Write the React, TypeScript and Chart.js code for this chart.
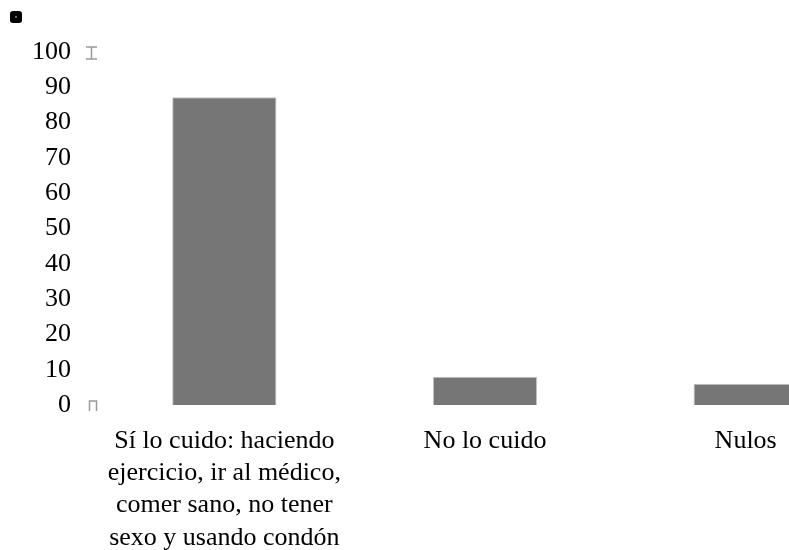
import React, { useEffect, useRef } from "react";
import { Chart, registerables } from "chart.js";

Chart.register(...registerables);

const categories: (string | string[])[] = [
  ["Sí lo cuido: haciendo", "ejercicio, ir al médico,", "comer sano, no tener", "sexo y usando condón"],
  "No lo cuido",
  "Nulos",
];
const values: number[] = [87.2, 8.0, 6.0];
const yMin = 0;
const yMax = 100;
const yStep = 10;

const FONT = "'Liberation Serif', 'Times New Roman', serif";

const markPlugin = {
  id: "axisMarks",
  afterDraw(chart: any) {
    const { ctx, scales } = chart;
    const y = scales.y;
    const x0 = chart.chartArea.left - 3;
    const top = y.getPixelForValue(yMax);
    const bot = y.getPixelForValue(yMin);
    ctx.save();
    // legend-like marker box
    ctx.fillStyle = "#000";
    ctx.beginPath();
    (ctx as any).roundRect(10, 11, 12, 12, 3);
    ctx.fill();
    ctx.fillStyle = "#666";
    ctx.fillRect(15, 16, 2, 2);
    ctx.strokeStyle = "#9a9a9a";
    ctx.lineWidth = 1.5;
    ctx.beginPath();
    // "I" mark near max
    ctx.moveTo(x0 - 5, top - 5);
    ctx.lineTo(x0 + 6, top - 5);
    ctx.moveTo(x0 + 0.5, top - 5);
    ctx.lineTo(x0 + 0.5, top + 7);
    ctx.moveTo(x0 - 5, top + 7);
    ctx.lineTo(x0 + 6, top + 7);
    // small "n" mark near zero
    ctx.moveTo(x0 - 1.5, bot + 6);
    ctx.lineTo(x0 - 1.5, bot - 4);
    ctx.lineTo(x0 + 5.5, bot - 4);
    ctx.lineTo(x0 + 5.5, bot + 6);
    ctx.stroke();
    ctx.restore();
  },
};

export default function App() {
  const ref = useRef<HTMLCanvasElement | null>(null);
  useEffect(() => {
    if (!ref.current) return;
    const chart = new Chart(ref.current, {
      type: "bar",
      data: {
        labels: categories,
        datasets: [
          {
            label: "",
            data: values,
            backgroundColor: "#767676",
            borderColor: "#c4c4c4",
            borderWidth: 1,
            categoryPercentage: 1,
            barPercentage: 0.4,
          },
        ],
      },
      options: {
        animation: false,
        responsive: false,
        maintainAspectRatio: false,
        layout: { padding: { top: 52, right: 0, left: 0, bottom: 0 } },
        plugins: {
          legend: { display: false },
          tooltip: { enabled: false },
        },
        scales: {
          x: {
            grid: { display: false, drawTicks: false },
            border: { display: false },
            ticks: {
              font: { size: 26, family: FONT, lineHeight: 1.24 },
              color: "#000",
              maxRotation: 0,
              autoSkip: false,
              padding: 20,
            },
          },
          y: {
            min: yMin,
            max: yMax,
            grid: { display: false, drawTicks: false },
            border: { display: false },
            ticks: {
              stepSize: yStep,
              font: { size: 26, family: FONT },
              color: "#000",
              padding: 23,
            },
            afterFit: (s: any) => {
              s.width = 94;
            },
          },
        },
      },
      plugins: [markPlugin],
    });
    return () => chart.destroy();
  }, []);
  return (
    <div style={{ position: "absolute", left: 0, top: 0, width: 789, height: 550, overflow: "hidden" }}>
      <div style={{ position: "absolute", left: 0, top: 0, width: 876, height: 574 }}>
        <canvas ref={ref} width={876} height={574} style={{ width: 876, height: 574 }} />
      </div>
    </div>
  );
}
